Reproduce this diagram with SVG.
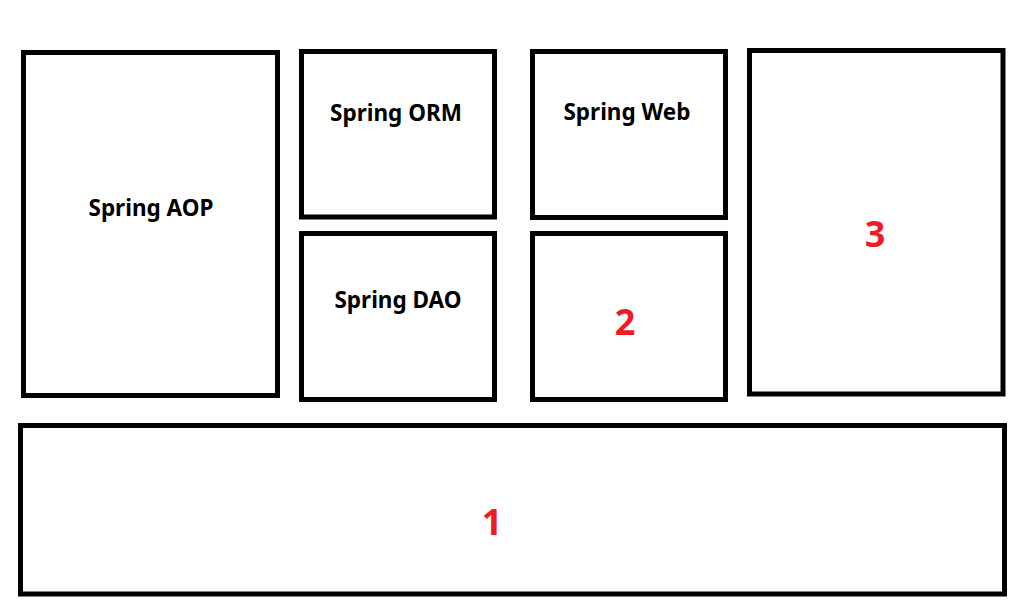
<svg xmlns="http://www.w3.org/2000/svg" width="1035" height="611" viewBox="0 0 1035 611">
<style>
.box{fill:#fff;stroke:#000;stroke-width:5}
.lbl{font-family:"Noto Sans","Noto Sans CJK KR",sans-serif;font-weight:bold;font-size:22.5px;fill:#000;text-anchor:middle}
.num{font-family:"Noto Sans","Noto Sans CJK KR",sans-serif;font-weight:bold;font-size:36px;fill:#ed1c24;text-anchor:middle}
</style>
<rect width="1035" height="611" fill="#fff"/>
<g id="aop"><rect class="box" x="23.5" y="52.5" width="254" height="343"/><text class="lbl" x="151" y="216">Spring AOP</text></g>
<g id="orm"><rect class="box" x="301.5" y="51.5" width="193" height="165.5"/><text class="lbl" x="396" y="121">Spring ORM</text></g>
<g id="dao"><rect class="box" x="301.5" y="233.5" width="193" height="166"/><text class="lbl" x="398" y="308">Spring DAO</text></g>
<g id="web"><rect class="box" x="532.5" y="51.5" width="193" height="166"/><text class="lbl" x="627" y="120">Spring Web</text></g>
<g id="n2"><rect class="box" x="532.5" y="233.5" width="193" height="166"/><text class="num" x="625" y="335">2</text></g>
<g id="n3"><rect class="box" x="749.5" y="50.5" width="253.5" height="343.5"/><text class="num" x="875" y="247">3</text></g>
<g id="n1"><rect class="box" x="20.5" y="425.5" width="984" height="168.5"/><text class="num" x="492" y="535">1</text></g>
<g id="connectors"/>
</svg>
